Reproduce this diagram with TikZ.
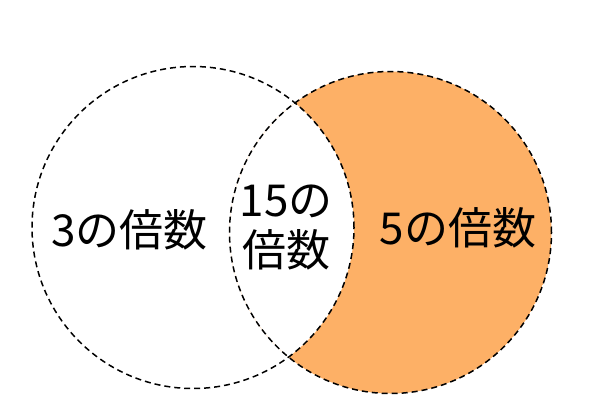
\documentclass[tikz,border=0pt]{standalone}
\usepackage{fontspec}
\setmainfont{Noto Sans CJK JP}
\usepackage{tikz}
\definecolor{multfive}{RGB}{253,176,102}

\begin{document}
\begin{tikzpicture}[x=1pt,y=-1pt,
    venn/.style={dash pattern=on 6pt off 4pt, line width=1.5pt},
    lbl/.style={font=\fontsize{44}{50}\selectfont, align=center, inner sep=0pt}]
  \useasboundingbox (0,0) rectangle (592,410);
  \coordinate (c3) at (193,227.5);
  \coordinate (c5) at (390.5,232.5);
  \begin{scope}
    \clip (c5) circle (161pt);
    \fill[multfive, even odd rule] (c5) circle (161pt) (c3) circle (161pt);
  \end{scope}
  \draw[venn] (c3) circle (161pt);
  \draw[venn] (c5) circle (161pt);
  \node[lbl] (three) at (129.5,230) {3の倍数};
  \node[lbl] (fifteen) at (286,228) {15の\\倍数};
  \node[lbl] (five) at (458,228) {5の倍数};
\end{tikzpicture}
\end{document}
